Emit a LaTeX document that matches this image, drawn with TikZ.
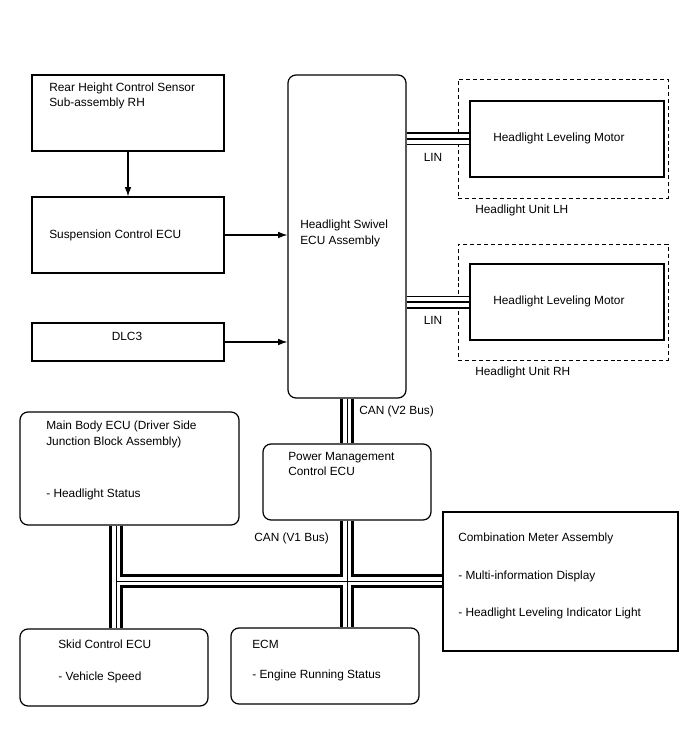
\documentclass[tikz,border=0pt]{standalone}
\usepackage{fontspec}
\setmainfont{Liberation Sans}
\usetikzlibrary{arrows.meta, positioning, fit, calc}

\begin{document}
\begin{tikzpicture}[
    x=0.75pt, y=-0.75pt,
    box/.style={draw, line width=0.9pt, inner sep=0pt},
    rbox/.style={box, rounded corners=6pt},
    unit/.style={draw, line width=0.7pt, dash pattern=on 3pt off 2.2pt, inner sep=0pt},
    txt/.style={inner sep=0pt, align=left, anchor=west, font=\fontsize{8.9}{11.6}\selectfont},
    arrow/.style={line width=0.8pt, -{Latex[length=7pt,width=5pt]}},
    linbus/.style={draw, line width=9.75pt, postaction={draw=white, line width=7.8pt},
      postaction={draw=black, line width=2pt}},
    canbus/.style={draw, line width=10pt, postaction={draw=white, line width=6pt},
      postaction={draw=black, line width=0.6pt}}
]
\useasboundingbox (0,0) rectangle (688,755);

% left column
\node[box, fit={(32,75) (224,151)}] (rear) {};
\node[box, fit={(32,197) (224,273)}] (susp) {};
\node[box, fit={(32,323) (224,361)}] (dlc) {};
\node[txt] (reart) at (49,96) {Rear Height Control Sensor\\Sub-assembly RH};
\node[txt] (suspt) at (49,235.5) {Suspension Control ECU};
\node[txt, anchor=center] (dlct) at (127,336.5) {DLC3};

% swivel ECU
\node[rbox, fit={(288,75) (406,398)}] (swivel) {};
\node[txt] (swivelt) at (300,233.5) {Headlight Swivel\\ECU Assembly};

% headlight units
\node[unit, fit={(458,79) (668,198)}] (unitlh) {};
\node[box, fit={(470,101) (664,177)}] (motorlh) {};
\node[txt] (motorlht) at (493,138.5) {Headlight Leveling Motor};
\node[txt] (unitlht) at (475,210.5) {Headlight Unit LH};
\node[unit, fit={(458,244) (668,360)}] (unitrh) {};
\node[box, fit={(470,264) (664,340)}] (motorrh) {};
\node[txt] (motorrht) at (493,301.5) {Headlight Leveling Motor};
\node[txt] (unitrht) at (475,372.5) {Headlight Unit RH};
\node[txt, anchor=center] (linlh) at (433,157.5) {LIN};
\node[txt, anchor=center] (linrh) at (433,320.5) {LIN};

% CAN side
\node[rbox, fit={(263,444) (431,520)}] (pmc) {};
\node[txt] (pmct) at (288,464) {Power Management\\Control ECU};
\node[txt] (canv2) at (359,411.5) {CAN (V2 Bus)};
\node[txt] (canv1) at (254,538.5) {CAN (V1 Bus)};
\node[rbox, fit={(20,412) (239,525)}] (mainbody) {};
\node[txt] (mainbodyt) at (46,434.5) {Main Body ECU (Driver Side\\Junction Block Assembly)};
\node[txt] (mainbodys) at (46,494.5) {- Headlight Status};
\node[box, fit={(443,512) (678,651)}] (meter) {};
\node[txt] (metert) at (458,538.5) {Combination Meter Assembly};
\node[txt] (meters) at (458,576.5) {- Multi-information Display};
\node[txt] (meteri) at (458,613.5) {- Headlight Leveling Indicator Light};
\node[rbox, fit={(20,629) (208,706)}] (skid) {};
\node[txt] (skidt) at (58,644.5) {Skid Control ECU};
\node[txt] (skids) at (58,677.5) {- Vehicle Speed};
\node[rbox, fit={(231,628) (419,704)}] (ecm) {};
\node[txt] (ecmt) at (252,644.5) {ECM};
\node[txt] (ecms) at (252,675.5) {- Engine Running Status};
\coordinate (jl) at (116,581);

\draw[arrow] (rear) -- (susp);
\draw[arrow] (susp.east) -- (susp.east -| swivel.west);
\draw[arrow] (dlc.east) -- (dlc.east -| swivel.west);

\path[linbus] (motorlh.west -| swivel.east) -- (motorlh.west);
\path[linbus] (motorrh.west -| swivel.east) -- (motorrh.west);
\path[canbus] (swivel.south) -- (pmc.north);
\path[canbus] (mainbody.south -| jl) -- (skid.north -| jl)
  (pmc.south) -- (pmc.south |- ecm.north)
  (jl) -- (jl -| meter.west);
\end{tikzpicture}
\end{document}
